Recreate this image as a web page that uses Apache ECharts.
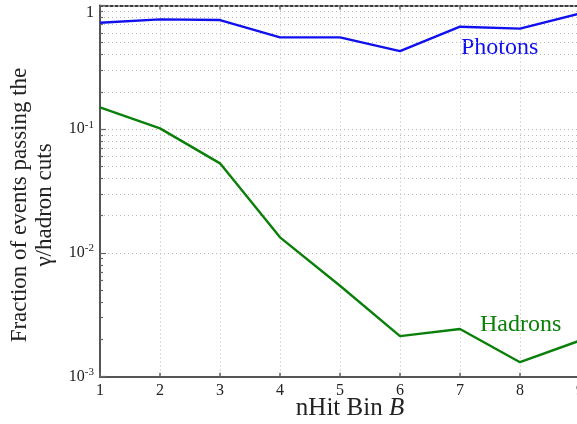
<!DOCTYPE html>
<html>
<head>
<meta charset="utf-8">
<script src="https://cdn.jsdelivr.net/npm/echarts@6/dist/echarts.min.js"></script>
<style>
html,body{margin:0;padding:0;background:#fff;}
#chart{width:577px;height:424px;}
</style>
</head>
<body>
<div id="chart"></div>
<script>
// nHit bins
var bins = [1, 2, 3, 4, 5, 6, 7, 8, 9];
// fraction of photon events passing cuts
var photons = [0.726, 0.773, 0.763, 0.553, 0.553, 0.428, 0.674, 0.650, 0.861];
// fraction of hadron events passing cuts
var hadrons = [0.150, 0.1016, 0.053, 0.01337, 0.00543, 0.00213, 0.00243, 0.00131, 0.00196];
// decades on the y axis
var decades = [0.001, 0.01, 0.1, 1];
var minorMults = [2, 3, 4, 5, 6, 7, 8, 9];

var serif = '"Liberation Serif", "DejaVu Serif", serif';
var gridColor = '#b8b8b8';

function pairs(xs, ys) { return xs.map(function (x, i) { return [x, ys[i]]; }); }

// minor grid lines & minor ticks at 2..9 x 10^k
var minorVals = [];
for (var d = 0; d < decades.length - 1; d++) {
  minorMults.forEach(function (m) { minorVals.push(+(m * decades[d]).toPrecision(3)); });
}
var minorGrid = minorVals.map(function (v) { return { yAxis: v }; });
var minorTicks = minorVals.map(function (v) { return [{ coord: [1, v] }, { coord: [1.05, v] }]; });
var majorTicks = decades.map(function (v) { return [{ coord: [1, v] }, { coord: [1.1, v] }]; });

var chart = echarts.init(document.getElementById('chart'), null, { renderer: 'canvas' });
chart.setOption({
  animation: false,
  backgroundColor: '#fff',
  grid: { left: 100, top: 5.5, width: 480, height: 371.2, containLabel: false, outerBoundsMode: 'none' },
  xAxis: [{
    type: 'value', min: 1, max: 9, interval: 1, position: 'bottom',
    axisLine: { onZero: false, lineStyle: { color: '#555', width: 2 } },
    axisTick: { inside: true, length: 4, lineStyle: { color: '#666', width: 1.5 } },
    axisLabel: { color: '#222', fontFamily: serif, fontSize: 16, margin: 6, hideOverlap: false },
    splitLine: { show: true, lineStyle: { color: gridColor, type: [1, 3], width: 1 } }
  }, {
    type: 'value', min: 1, max: 9, interval: 1, position: 'top',
    axisLine: { onZero: false, lineStyle: { color: '#000', width: 1.5, type: [3, 2] } },
    axisTick: { inside: true, length: 4, lineStyle: { color: '#666', width: 1.5 } },
    axisLabel: { show: false },
    splitLine: { show: false }
  }],
  yAxis: [{
    type: 'log', logBase: 10, min: 0.001, max: 1,
    axisLine: { show: true, onZero: false, lineStyle: { color: '#555', width: 2 } },
    axisTick: { show: false },
    axisLabel: {
      color: '#222', fontFamily: serif, fontSize: 16, margin: 6,
      formatter: function (v) {
        var e = Math.round(Math.log10(v));
        if (e === 0) return '{t|1}';
        return '{b|10}{s|' + e + '}';
      },
      rich: {
        b: { fontFamily: serif, fontSize: 16, color: '#222' },
        t: { fontFamily: serif, fontSize: 16, color: '#222', padding: [14, 0, 0, 0] },
        s: { fontFamily: serif, fontSize: 11, color: '#222', padding: [0, 0, 9, 0] }
      }
    },
    splitLine: { show: true, lineStyle: { color: gridColor, type: [1, 3], width: 1 } }
  }],
  series: [{
    type: 'line', name: 'Photons', data: pairs(bins, photons),
    showSymbol: false, symbol: 'none', clip: true,
    lineStyle: { color: '#1010ee', width: 2.4 }, z: 5
  }, {
    type: 'line', name: 'Hadrons', data: pairs(bins, hadrons),
    showSymbol: false, symbol: 'none', clip: true,
    lineStyle: { color: '#0a800a', width: 2.4 }, z: 5
  }, {
    type: 'line', data: [], silent: true,
    markLine: {
      silent: true, symbol: 'none', animation: false,
      label: { show: false },
      lineStyle: { color: gridColor, type: [1, 3], width: 1 },
      data: minorGrid
    }
  }, {
    type: 'line', data: [], silent: true,
    markLine: {
      silent: true, symbol: 'none', animation: false,
      label: { show: false },
      lineStyle: { color: '#666', type: 'solid', width: 1.2 },
      data: minorTicks.concat(majorTicks)
    }
  }],
  graphic: [{
    type: 'text', x: 32, y: 205, rotation: Math.PI / 2,
    style: {
      text: 'Fraction of events passing the\nγ/hadron cuts',
      font: '23px ' + serif, fill: '#222', align: 'center', verticalAlign: 'middle',
      lineHeight: 25
    }
  }, {
    type: 'text', x: 350, y: 408,
    style: {
      text: '{n|nHit Bin }{i|B}',
      align: 'center', verticalAlign: 'middle',
      rich: {
        n: { fontFamily: serif, fontSize: 25, fill: '#222' },
        i: { fontFamily: serif, fontSize: 25, fontStyle: 'italic', fill: '#222' }
      }
    }
  }, {
    type: 'text', x: 461, y: 48,
    style: { text: 'Photons', font: '24px ' + serif, fill: '#1010ee', align: 'left', verticalAlign: 'middle' }
  }, {
    type: 'text', x: 480, y: 325,
    style: { text: 'Hadrons', font: '24px ' + serif, fill: '#0a800a', align: 'left', verticalAlign: 'middle' }
  }]
});
</script>
</body>
</html>
